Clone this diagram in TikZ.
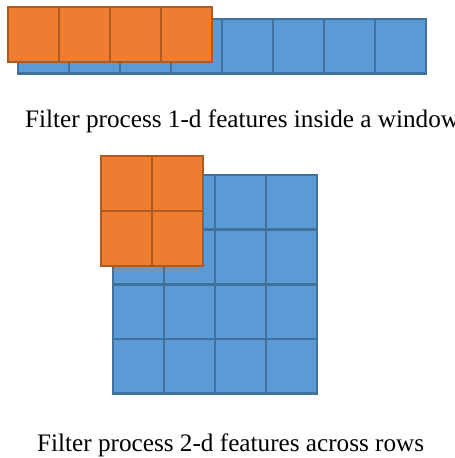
\documentclass[tikz,border=0pt]{standalone}
\usepackage{fontspec}
\setmainfont{Liberation Serif}
\definecolor{cellblue}{HTML}{5B9BD5}
\definecolor{cellblueline}{HTML}{41719C}
\definecolor{cellorange}{HTML}{ED7D31}
\definecolor{cellorangeline}{HTML}{AE5A21}
\tikzset{
  bluecell/.style={draw=cellblueline, fill=cellblue, line width=2.5pt,
    rectangle, inner sep=0pt, outer sep=0pt, anchor=north west,
    minimum width=51pt, minimum height=54.5pt},
  orangecell/.style={draw=cellorangeline, fill=cellorange, line width=2.5pt,
    rectangle, inner sep=0pt, outer sep=0pt, anchor=north west,
    minimum width=51pt, minimum height=55pt},
  caption/.style={anchor=base west, inner sep=0pt, font=\fontsize{25.2pt}{30pt}\selectfont}
}
\begin{document}
\begin{tikzpicture}[x=1pt,y=-1pt]
\useasboundingbox (0,0) rectangle (455,458);

% one-dimensional input row and the sliding window on top of it
\foreach \i in {0,...,7}
  \node[bluecell] (row\i) at ({18+51*\i},19) {};
\foreach \i in {0,...,3}
  \node[orangecell] (win\i) at ({8+51*\i},7) {};
\node[caption] (capone) at (25,127) {Filter process 1-d features inside a window};

% two-dimensional input grid and the 2x2 window
\foreach \r in {0,...,3}
  \foreach \c in {0,...,3}
    \node[bluecell] (grid\r\c) at ({113+51*\c},{175+54.7*\r}) {};
\foreach \r in {0,1}
  \foreach \c in {0,1}
    \node[orangecell] (sq\r\c) at ({101+51*\c},{156+55*\r}) {};
\node[caption] (captwo) at (37,451) {Filter process 2-d features across rows};
\end{tikzpicture}
\end{document}
